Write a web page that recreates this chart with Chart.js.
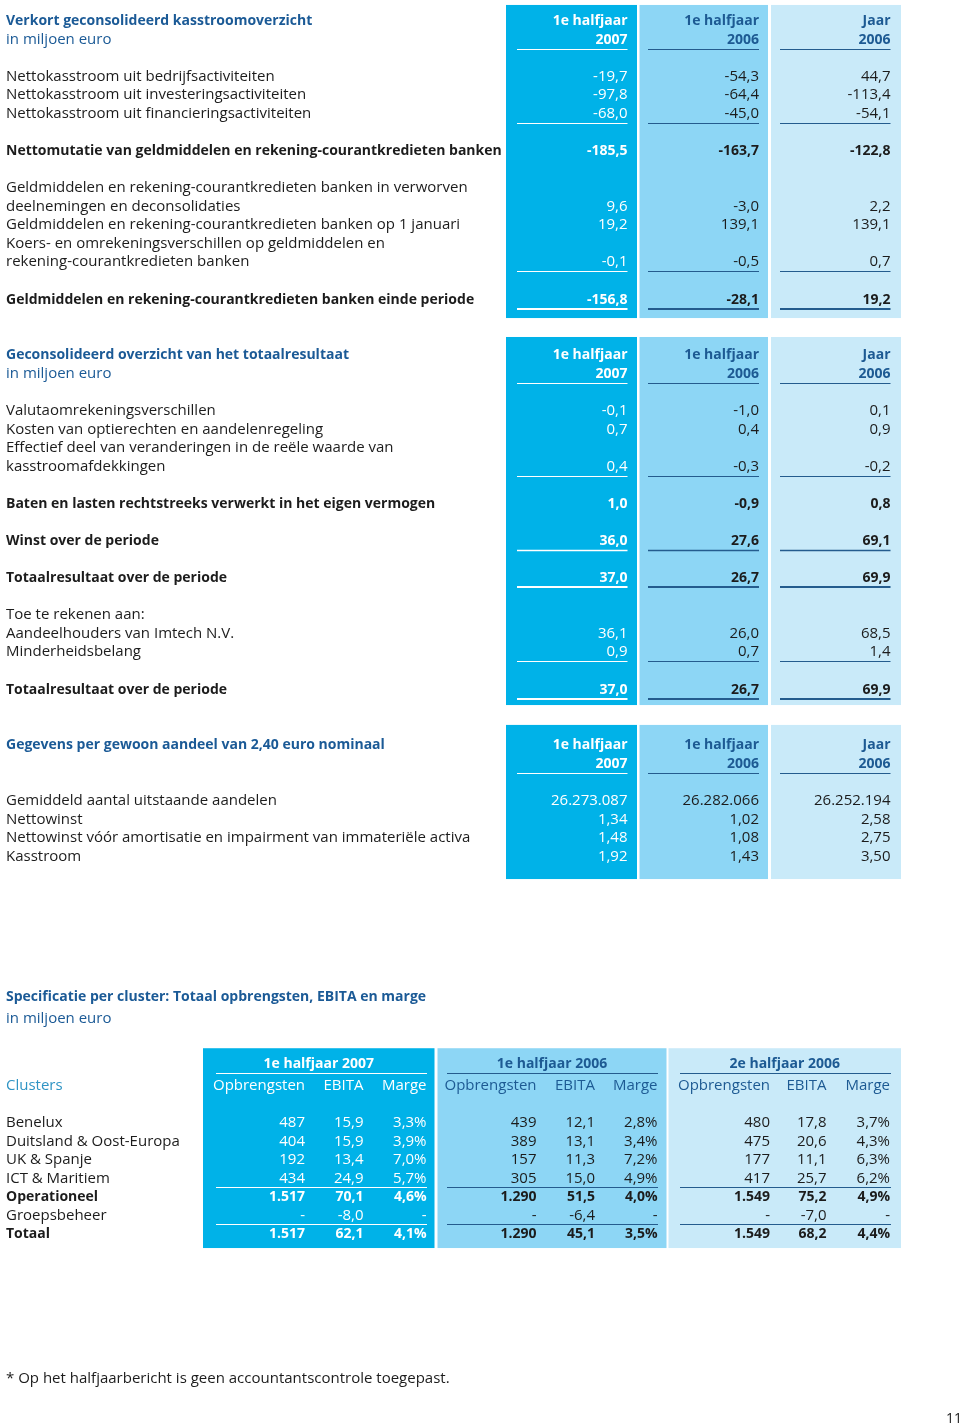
<!DOCTYPE html>
<html>
<head>
<meta charset="utf-8">
<script src="https://cdn.jsdelivr.net/npm/chart.js@4.4.1/dist/chart.umd.min.js"></script>
<style>
  html, body { margin: 0; padding: 0; background: #fff; }
  #wrap { width: 960px; height: 1424px; position: relative; }
</style>
</head>
<body>
<div id="wrap"><canvas id="myChart"></canvas></div>
<script>
// kolomkoppen
const periodTop = ["1e halfjaar", "1e halfjaar", "Jaar"];
const periodYears = ["2007", "2006", "2006"];

// verkort geconsolideerd kasstroomoverzicht
const cashLabels = [
  "Nettokasstroom uit bedrijfsactiviteiten",
  "Nettokasstroom uit investeringsactiviteiten",
  "Nettokasstroom uit financieringsactiviteiten",
  "Nettomutatie van geldmiddelen en rekening-courantkredieten banken",
  "Geldmiddelen en rekening-courantkredieten banken in verworven\ndeelnemingen en deconsolidaties",
  "Geldmiddelen en rekening-courantkredieten banken op 1 januari",
  "Koers- en omrekeningsverschillen op geldmiddelen en\nrekening-courantkredieten banken",
  "Geldmiddelen en rekening-courantkredieten banken einde periode"
];
const cashH1_2007 = [-19.7, -97.8, -68.0, -185.5, 9.6, 19.2, -0.1, -156.8];
const cashH1_2006 = [-54.3, -64.4, -45.0, -163.7, -3.0, 139.1, -0.5, -28.1];
const cashY2006 = [44.7, -113.4, -54.1, -122.8, 2.2, 139.1, 0.7, 19.2];

// geconsolideerd overzicht van het totaalresultaat
const totalLabels = [
  "Valutaomrekeningsverschillen",
  "Kosten van optierechten en aandelenregeling",
  "Effectief deel van veranderingen in de reële waarde van\nkasstroomafdekkingen",
  "Baten en lasten rechtstreeks verwerkt in het eigen vermogen",
  "Winst over de periode",
  "Totaalresultaat over de periode",
  "Toe te rekenen aan:\nAandeelhouders van Imtech N.V.",
  "Minderheidsbelang",
  "Totaalresultaat over de periode"
];
const totalH1_2007 = [-0.1, 0.7, 0.4, 1.0, 36.0, 37.0, 36.1, 0.9, 37.0];
const totalH1_2006 = [-1.0, 0.4, -0.3, -0.9, 27.6, 26.7, 26.0, 0.7, 26.7];
const totalY2006 = [0.1, 0.9, -0.2, 0.8, 69.1, 69.9, 68.5, 1.4, 69.9];

// gegevens per gewoon aandeel
const shareLabels = [
  "Gemiddeld aantal uitstaande aandelen",
  "Nettowinst",
  "Nettowinst vóór amortisatie en impairment van immateriële activa",
  "Kasstroom"
];
const shareH1_2007 = [26273087, 1.34, 1.48, 1.92];
const shareH1_2006 = [26282066, 1.02, 1.08, 1.43];
const shareY2006 = [26252194, 2.58, 2.75, 3.50];

// specificatie per cluster
const clusterNames = ["Benelux", "Duitsland & Oost-Europa", "UK & Spanje", "ICT & Maritiem",
  "Operationeel", "Groepsbeheer", "Totaal"];
const clusterPeriods = ["1e halfjaar 2007", "1e halfjaar 2006", "2e halfjaar 2006"];
const clusterMeasures = ["Opbrengsten", "EBITA", "Marge"];
const revH1_2007 = [487, 404, 192, 434, 1517, null, 1517];
const ebitaH1_2007 = [15.9, 15.9, 13.4, 24.9, 70.1, -8.0, 62.1];
const margeH1_2007 = [3.3, 3.9, 7.0, 5.7, 4.6, null, 4.1];
const revH1_2006 = [439, 389, 157, 305, 1290, null, 1290];
const ebitaH1_2006 = [12.1, 13.1, 11.3, 15.0, 51.5, -6.4, 45.1];
const margeH1_2006 = [2.8, 3.4, 7.2, 4.9, 4.0, null, 3.5];
const revH2_2006 = [480, 475, 177, 417, 1549, null, 1549];
const ebitaH2_2006 = [17.8, 20.6, 11.1, 25.7, 75.2, -7.0, 68.2];
const margeH2_2006 = [3.7, 4.3, 6.3, 6.2, 4.9, null, 4.4];

const footnote = "* Op het halfjaarbericht is geen accountantscontrole toegepast.";

// ---- layout (regels van 18,57 px, x in px) ----
const LINE0 = 20;
const LH = 18.57;
const FONT = '"Open Sans", "Noto Sans", sans-serif';
const BLUE = "#1b5a96";
const INK = "#1c1c1c";
const PANEL = ["#00b2e8", "#8dd6f5", "#c9eaf9"];
const HEAD = ["#ffffff", "#1d5a93", "#1d5a93"];
const VAL = ["#ffffff", INK, INK];
const RULE = ["#ffffff", "#245c8e", "#245c8e"];

const colPanel = [[506, 637], [639.5, 768], [771, 901]];
const colRight = [627.5, 759, 890.5];
const colRuleL = [517, 648, 780];

const sections = [
  { title: "Verkort geconsolideerd kasstroomoverzicht", sub: "in miljoen euro", line: 0, panel: [-0.81, 16.05],
    labels: cashLabels, cols: [cashH1_2007, cashH1_2006, cashY2006],
    lines: [3, 4, 5, 7, 10, 11, 13, 15], bold: [0, 0, 0, 1, 0, 0, 0, 1], rule: [0, 0, 1, 0, 0, 0, 1, 2],
    dec: [1, 1, 1, 1, 1, 1, 1, 1] },
  { title: "Geconsolideerd overzicht van het totaalresultaat", sub: "in miljoen euro", line: 18, panel: [17.07, 36.89],
    labels: totalLabels, cols: [totalH1_2007, totalH1_2006, totalY2006],
    lines: [21, 22, 24, 26, 28, 30, 33, 34, 36], bold: [0, 0, 0, 1, 1, 1, 0, 0, 1], rule: [0, 0, 1, 0, 1.4, 2, 0, 1, 2],
    dec: [1, 1, 1, 1, 1, 1, 1, 1, 1] },
  { title: "Gegevens per gewoon aandeel van 2,40 euro nominaal", sub: null, line: 39, panel: [37.96, 46.26],
    labels: shareLabels, cols: [shareH1_2007, shareH1_2006, shareY2006],
    lines: [42, 43, 44, 45], bold: [0, 0, 0, 0], rule: [0, 0, 0, 0],
    dec: [0, 2, 2, 2] }
];

const cluster = {
  title: 52.56, sub: 53.74, group: 56.17, measure: 57.35, first: 59.34, panel: [55.37, 66.13],
  panels: [[203, 434.5], [437.5, 666.5], [668.5, 901]],
  rights: [[305, 363.5, 426.5], [536.5, 595, 657.5], [770, 826.5, 890]],
  rules: [[216, 427], [447, 658], [680, 891]],
  cols: [[revH1_2007, ebitaH1_2007, margeH1_2007], [revH1_2006, ebitaH1_2006, margeH1_2006],
    [revH2_2006, ebitaH2_2006, margeH2_2006]],
  bold: [0, 0, 0, 0, 1, 0, 1], ruleAfter: [3, 5]
};

function fmt(v, d) {
  if (v === null) return "-";
  let parts = Math.abs(v).toFixed(d).split(".");
  let int = parts[0].replace(/\B(?=(\d{3})+(?!\d))/g, ".");
  return (v < 0 ? "-" : "") + int + (parts[1] ? "," + parts[1] : "");
}

const tablePlugin = {
  id: "tablePlugin",
  afterDraw(chart) {
    const ctx = chart.ctx;
    const px = (v) => chart.scales.x.getPixelForValue(v);
    const py = (v) => chart.scales.y.getPixelForValue(v);

    function txt(str, x, line, align, color, weight, maxW) {
      let size = weight >= 600 ? 14 : 15;
      ctx.font = `${weight} ${size}px ${FONT}`;
      ctx.fillStyle = color;
      ctx.textAlign = align;
      ctx.textBaseline = "alphabetic";
      if (maxW) ctx.fillText(str, px(x), py(line) + 5, maxW);
      else ctx.fillText(str, px(x), py(line) + 5);
    }
    function rule(x1, x2, line, off, color, w) {
      let y = Math.round(py(line) + off) + (w % 2 ? 0.5 : 0);
      ctx.strokeStyle = color;
      ctx.lineWidth = w;
      ctx.beginPath();
      ctx.moveTo(px(x1), y);
      ctx.lineTo(px(x2), y);
      ctx.stroke();
    }

    ctx.save();

    sections.forEach((s) => {
      colPanel.forEach((p, c) => {
        ctx.fillStyle = PANEL[c];
        let top = py(s.panel[0]);
        ctx.fillRect(px(p[0]), top, px(p[1]) - px(p[0]), py(s.panel[1]) - top);
      });
      txt(s.title, 6, s.line, "left", BLUE, 700);
      if (s.sub) txt(s.sub, 6, s.line + 1, "left", BLUE, 400);
      colRight.forEach((r, c) => {
        txt(periodTop[c], r, s.line, "right", HEAD[c], 700);
        txt(periodYears[c], r, s.line + 1, "right", HEAD[c], 700);
        rule(colRuleL[c], r, s.line + 1, 10, RULE[c], 1);
      });
      s.labels.forEach((lab, i) => {
        let ln = s.lines[i];
        let w = s.bold[i] ? 700 : 400;
        let parts = lab.split("\n");
        parts.forEach((p, k) => txt(p, 6, ln - (parts.length - 1 - k), "left", INK, w));
        s.cols.forEach((col, c) => {
          txt(fmt(col[i], s.dec[i]), colRight[c], ln, "right", VAL[c], w);
          if (s.rule[i]) rule(colRuleL[c], colRight[c], ln, 10, RULE[c], s.rule[i]);
        });
      });
    });

    // clusters
    cluster.panels.forEach((p, c) => {
      ctx.fillStyle = PANEL[c];
      let top = py(cluster.panel[0]);
      ctx.fillRect(px(p[0]), top, px(p[1]) - px(p[0]), py(cluster.panel[1]) - top);
    });
    txt("Specificatie per cluster: Totaal opbrengsten, EBITA en marge", 6, cluster.title, "left", BLUE, 700);
    txt("in miljoen euro", 6, cluster.sub, "left", BLUE, 400);
    txt("Clusters", 6, cluster.measure, "left", "#2f94c4", 400);
    cluster.panels.forEach((p, c) => {
      txt(clusterPeriods[c], (p[0] + p[1]) / 2, cluster.group, "center", HEAD[c], 700);
      rule(cluster.rules[c][0], cluster.rules[c][1], cluster.group, 10, RULE[c], 1);
      clusterMeasures.forEach((m, k) => txt(m, cluster.rights[c][k], cluster.measure, "right", HEAD[c], 400));
      cluster.ruleAfter.forEach((r) =>
        rule(cluster.rules[c][0], cluster.rules[c][1], cluster.first + r, 9, RULE[c], 1));
    });
    clusterNames.forEach((name, i) => {
      let ln = cluster.first + i;
      let w = cluster.bold[i] ? 700 : 400;
      txt(name, 6, ln, "left", INK, w);
      cluster.cols.forEach((set, c) => {
        let [rev, ebita, marge] = set;
        let r = cluster.rights[c];
        txt(rev[i] === null ? "-" : fmt(rev[i], 0), r[0], ln, "right", VAL[c], w);
        txt(fmt(ebita[i], 1), r[1], ln, "right", VAL[c], w);
        txt(marge[i] === null ? "-" : fmt(marge[i], 1) + "%", r[2], ln, "right", VAL[c], w);
      });
    });

    // voetnoot en paginanummer
    ctx.font = `400 15px ${FONT}`;
    ctx.fillStyle = INK;
    ctx.textAlign = "left";
    ctx.fillText(footnote, px(6), py(73.13) + 5, 445);
    ctx.fillText("11", px(946), py(75.28) + 5, 16);

    ctx.restore();
  }
};

let ctx = document.getElementById("myChart").getContext("2d");

let myChart = new Chart(ctx, {
  type: "scatter",
  data: { datasets: [] },
  options: {
    responsive: true,
    maintainAspectRatio: false,
    animation: false,
    events: [],
    layout: { padding: 0 },
    plugins: { legend: { display: false }, tooltip: { enabled: false } },
    scales: {
      x: { type: "linear", min: 0, max: 960, display: false },
      y: { type: "linear", min: -LINE0 / LH, max: (1424 - LINE0) / LH, reverse: true, display: false }
    }
  },
  plugins: [tablePlugin]
});
</script>
</body>
</html>
